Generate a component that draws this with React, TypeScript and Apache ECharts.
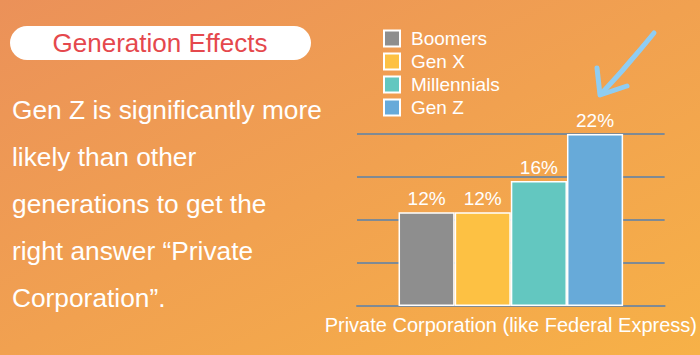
import React, { useEffect, useRef } from "react";
import * as echarts from "echarts";

const categories = ["Private Corporation (like Federal Express)"];
const seriesNames = ["Boomers", "Gen X", "Millennials", "Gen Z"];
const seriesValues = [12, 12, 16, 22];
const seriesColors = ["#8E8E8E", "#FDC143", "#63C7C0", "#67AAD9"];
const titleText = "Generation Effects";
const bodyLines = [
  "Gen Z is significantly more",
  "likely than other",
  "generations to get the",
  "right answer \u201cPrivate",
  "Corporation\u201d.",
];

const FONT = "'Liberation Sans', Arial, Helvetica, sans-serif";

export default function App() {
  const ref = useRef<HTMLDivElement>(null);
  useEffect(() => {
    if (!ref.current) return;
    const chart = echarts.init(ref.current, undefined, { renderer: "svg" });
    const arrowColor = "#8FCDF2";
    const option: any = {
      animation: false,
      backgroundColor: "transparent",
      textStyle: { fontFamily: FONT },
      grid: { left: 357, right: 35, top: 134, bottom: 49 },
      legend: {
        orient: "vertical",
        left: 383,
        top: 29,
        padding: 0,
        itemWidth: 16,
        itemHeight: 16,
        itemGap: 4,
        icon: "rect",
        data: seriesNames,
        textStyle: { color: "#fff", fontSize: 19, fontFamily: FONT, padding: [0, 0, 0, 6] },
      },
      xAxis: {
        type: "category",
        data: categories,
        axisLine: { show: true, lineStyle: { color: "#7F8A94", width: 2 } },
        axisTick: { show: false },
        axisLabel: { color: "#fff", fontSize: 20, fontFamily: FONT, margin: 9 },
      },
      yAxis: {
        type: "value",
        min: 0,
        max: 22,
        interval: 5.5,
        axisLabel: { show: false },
        axisLine: { show: false },
        axisTick: { show: false },
        splitLine: { lineStyle: { color: "#7F8A94", width: 2 } },
      },
      series: seriesNames.map((name, i) => ({
        name,
        type: "bar",
        data: [seriesValues[i]],
        barGap: "0%",
        barCategoryGap: "27%",
        itemStyle: { color: seriesColors[i], borderColor: "#fff", borderWidth: 1.5 },
        label: {
          show: true,
          position: "top",
          distance: 4,
          formatter: "{c}%",
          color: "#fff",
          fontSize: 19,
          fontFamily: FONT,
        },
      })),
      graphic: [
        {
          type: "rect",
          shape: { x: 10, y: 26, width: 301, height: 34, r: 17 },
          style: { fill: "#fff" },
        },
        {
          type: "text",
          x: 160,
          y: 43,
          style: {
            text: titleText,
            fill: "#E5484D",
            font: `26px ${FONT}`,
            align: "center",
            verticalAlign: "middle",
          },
        },
        ...bodyLines.map((t, i) => ({
          type: "text",
          x: 12,
          y: 110 + i * 47,
          style: {
            text: t,
            fill: "#fff",
            font: `26.3px ${FONT}`,
            align: "left",
            verticalAlign: "middle",
          },
        })),
        {
          type: "polyline",
          shape: { points: [[654, 33], [640, 50], [622, 71], [601, 94]] },
          style: { stroke: arrowColor, lineWidth: 5, lineCap: "round", lineJoin: "round", fill: null },
        },
        {
          type: "polyline",
          shape: { points: [[651, 36], [630, 60], [605, 90]] },
          style: { stroke: arrowColor, lineWidth: 3, lineCap: "round", fill: null, opacity: 0.8 },
        },
        {
          type: "polyline",
          shape: { points: [[597, 68], [600, 95], [627, 86]] },
          style: { stroke: arrowColor, lineWidth: 5, lineCap: "round", lineJoin: "round", fill: null },
        },
      ],
    };
    chart.setOption(option);
    return () => chart.dispose();
  }, []);
  return (
    <div
      ref={ref}
      style={{
        position: "absolute",
        left: 0,
        top: 0,
        width: 700,
        height: 355,
        background: "linear-gradient(to bottom right, #EB9159, #F7B147)",
      }}
    />
  );
}
